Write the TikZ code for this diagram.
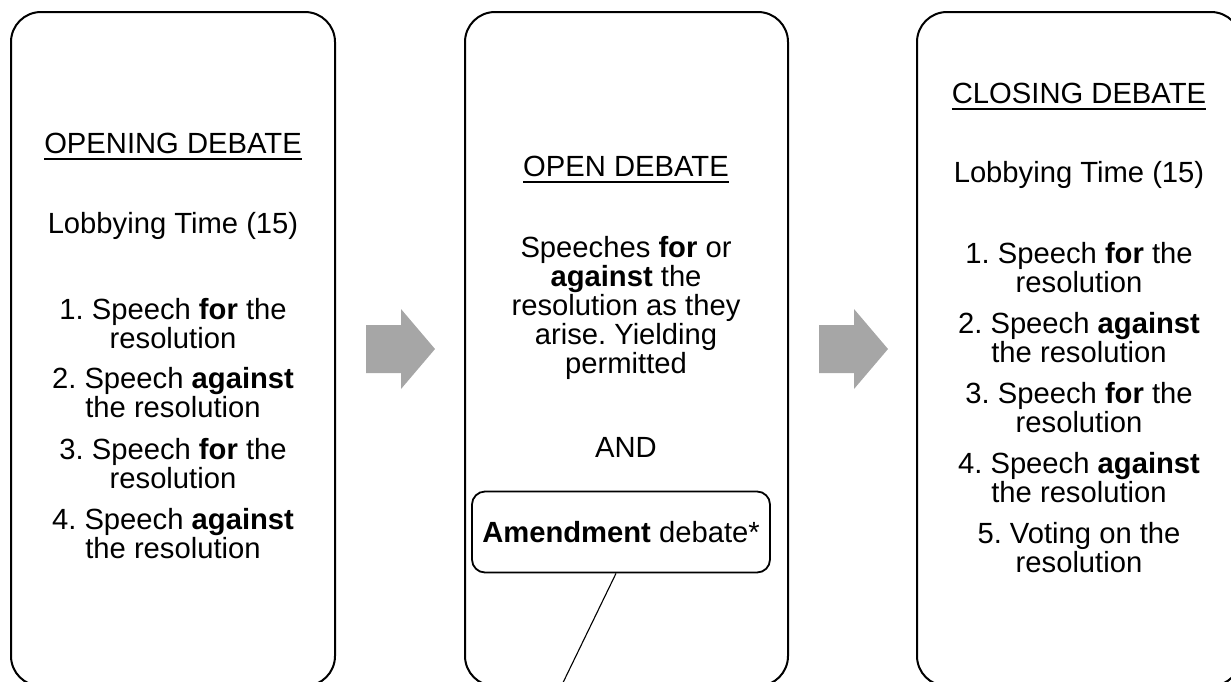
\documentclass[tikz,border=0pt]{standalone}
\usepackage{fontspec}
\setmainfont{Liberation Sans}
\usepackage{xcolor}
\frenchspacing

\definecolor{arrowgray}{HTML}{A6A6A6}
\newcommand{\ulhead}[1]{\sbox0{#1}\rlap{\raisebox{-7pt}{\rule{\wd0}{1.6pt}}}\usebox0}

\tikzset{
  stagebox/.style={draw=black, line width=2pt, rounded corners=30pt},
  amendbox/.style={draw=black, line width=1.8pt, rounded corners=13pt,
    minimum width=298pt, minimum height=81pt, inner sep=0pt,
    font=\fontsize{29.2}{29}\selectfont},
  stagetext/.style={anchor=base, inner sep=0pt, font=\fontsize{29.2}{29}\selectfont},
}

\begin{document}
\begin{tikzpicture}[x=1pt, y=-1pt]
\clip (0,0) rectangle (1231,681);

% the three stages, cut off at the top and bottom edge
\draw[stagebox] (11,12) rectangle (335,686);
\draw[stagebox] (465,12) rectangle (788,686);
\draw[stagebox] (917,12) rectangle (1241,686);

% gray block arrows between the stages
\foreach \ax in {366,819}
	\fill[arrowgray] (\ax,325) -- (\ax+35,325) -- (\ax+35,309) -- (\ax+69,349)
		-- (\ax+35,389) -- (\ax+35,373) -- (\ax,373) -- cycle;

% First stage, opening debate
\node[stagetext] (open-title) at (173,153) {\ulhead{OPENING DEBATE}};
\node[stagetext] (open-lobby) at (173,233) {Lobbying Time (15)};
\node[stagetext] (open-1a) at (173,319) {1. Speech \textbf{for} the};
\node[stagetext] (open-1b) at (173,348) {resolution};
\node[stagetext] (open-2a) at (173,388) {2. Speech \textbf{against}};
\node[stagetext] (open-2b) at (173,417) {the resolution};
\node[stagetext] (open-3a) at (173,459) {3. Speech \textbf{for} the};
\node[stagetext] (open-3b) at (173,488) {resolution};
\node[stagetext] (open-4a) at (173,529) {4. Speech \textbf{against}};
\node[stagetext] (open-4b) at (173,558) {the resolution};

% Second stage, open debate
\node[stagetext] (free-title) at (626,176) {\ulhead{OPEN DEBATE}};
\node[stagetext] (free-a) at (626,257) {Speeches \textbf{for} or};
\node[stagetext] (free-b) at (626,286) {\textbf{against} the};
\node[stagetext] (free-c) at (626,315) {resolution as they};
\node[stagetext] (free-d) at (626,344) {arise. Yielding};
\node[stagetext] (free-e) at (626,373) {permitted};
\node[stagetext] (free-and) at (626,457) {AND};
\node[amendbox] (amend) at (621,532) {\textbf{Amendment} debate*};
\coordinate (amendtail) at (557,695);
\draw[line width=1.1pt] ([xshift=-5pt]amend.south) -- (amendtail);

% Third stage, closing debate
\node[stagetext] (close-title) at (1079,103) {\ulhead{CLOSING DEBATE}};
\node[stagetext] (close-lobby) at (1079,182) {Lobbying Time (15)};
\node[stagetext] (close-1a) at (1079,263) {1. Speech \textbf{for} the};
\node[stagetext] (close-1b) at (1079,292) {resolution};
\node[stagetext] (close-2a) at (1079,333) {2. Speech \textbf{against}};
\node[stagetext] (close-2b) at (1079,362) {the resolution};
\node[stagetext] (close-3a) at (1079,403) {3. Speech \textbf{for} the};
\node[stagetext] (close-3b) at (1079,432) {resolution};
\node[stagetext] (close-4a) at (1079,473) {4. Speech \textbf{against}};
\node[stagetext] (close-4b) at (1079,502) {the resolution};
\node[stagetext] (close-5a) at (1079,543) {5. Voting on the};
\node[stagetext] (close-5b) at (1079,572) {resolution};

\end{tikzpicture}
\end{document}
